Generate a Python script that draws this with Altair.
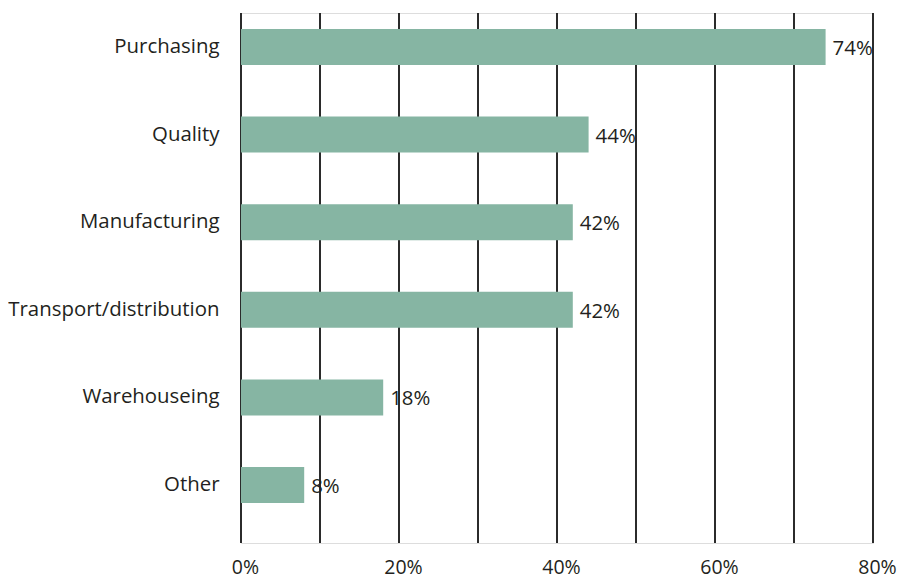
import altair as alt
import pandas as pd

categories = ["Purchasing", "Quality", "Manufacturing", "Transport/distribution", "Warehouseing", "Other"]
values = [74, 44, 42, 42, 18, 8]
grid_values = [0, 10, 20, 30, 40, 50, 60, 70, 80]

df = pd.DataFrame({"category": categories, "value": values})
df["label"] = [f"{v}%" for v in values]
grid_df = pd.DataFrame({"g": grid_values})

FONT = "Open Sans"
TXT = "#231f20"
FS = 20.4

x_scale = alt.Scale(domain=[0, 80], nice=False, zero=True)
y_scale = alt.Scale(domain=categories, paddingInner=0.589, paddingOuter=0.32, align=0.286)
x_axis = alt.Axis(values=[0, 20, 40, 60, 80], labelExpr="datum.value + '%'",
                  title=None, grid=False, domain=False, ticks=False,
                  labelFont=FONT, labelFontSize=19.5, labelColor=TXT,
                  labelPadding=15, labelFlush=False, labelOffset=4)

grid = alt.Chart(grid_df).mark_rule(color="#2b2b2b", strokeWidth=2).encode(
    x=alt.X("g:Q", scale=x_scale, axis=x_axis),
    y=alt.value(0), y2=alt.value(530),
)

bars = alt.Chart(df).mark_bar(color="#86b5a3").encode(
    x=alt.X("value:Q", scale=x_scale, axis=x_axis),
    y=alt.Y("category:N", scale=y_scale, sort=categories,
            axis=alt.Axis(title=None, domain=False, ticks=False, labelFont=FONT,
                          labelFontSize=FS, labelColor=TXT, labelPadding=22,
                          labelOffset=0, labelLimit=300)),
)

labels = alt.Chart(df).mark_text(align="left", baseline="middle", dx=7, dy=2,
                                 font=FONT, fontSize=FS, color=TXT).encode(
    x=alt.X("value:Q", scale=x_scale, axis=x_axis),
    y=alt.Y("category:N", scale=y_scale, sort=categories),
    text="label:N",
)

chart = alt.layer(grid, bars, labels).properties(
    width=632, height=530,
    autosize=alt.AutoSizeParams(type="none"),
    padding={"left": 233, "top": 5, "right": 28, "bottom": 37},
).configure_view(strokeWidth=0, stroke="transparent").configure(background="white")

chart.save("out.html", embed_options={"renderer": "svg", "actions": False})
